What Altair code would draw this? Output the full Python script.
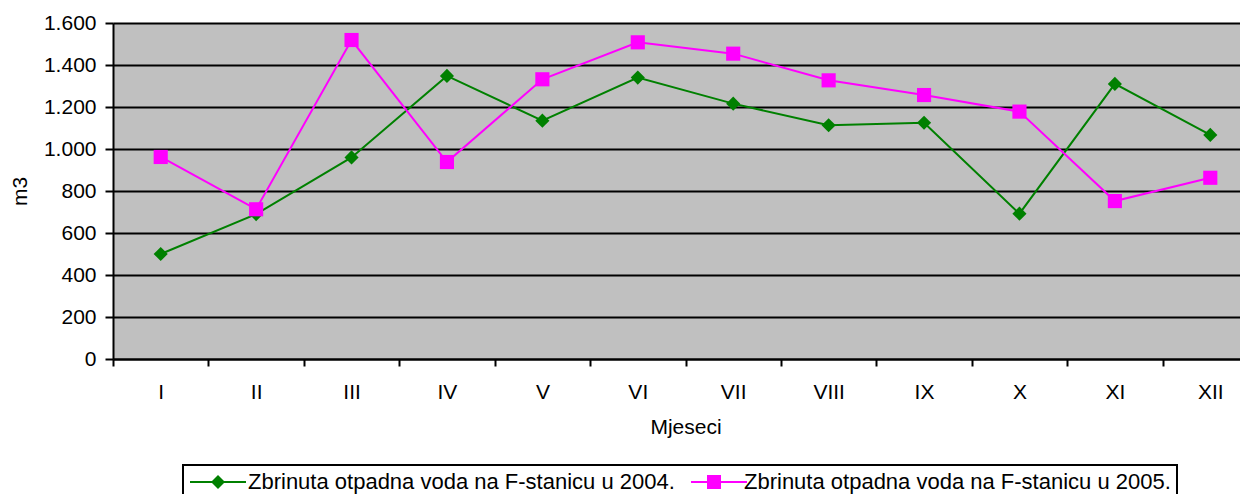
import altair as alt
import pandas as pd

months = ['I', 'II', 'III', 'IV', 'V', 'VI', 'VII', 'VIII', 'IX', 'X', 'XI', 'XII']
years = ['2004', '2005']
series_names = ['Zbrinuta otpadna voda na F-stanicu u 2004.',
                'Zbrinuta otpadna voda na F-stanicu u 2005.']
values_2004 = [500, 690, 960, 1348, 1135, 1340, 1216, 1113, 1125, 692, 1310, 1067]
values_2005 = [962, 713, 1519, 938, 1332, 1508, 1454, 1327, 1257, 1178, 752, 863]
y_ticks = [0, 200, 400, 600, 800, 1000, 1200, 1400, 1600]
colors = ['#008000', '#FF00FF']

rows = []
for key, name, vals in zip(years, series_names, [values_2004, values_2005]):
    for i, (m, v) in enumerate(zip(months, vals)):
        rows.append({'month': m, 'idx': i, 'value': v, 'key': key, 'series': name})
df = pd.DataFrame(rows)

FONT = 'Liberation Sans'

x_enc = alt.X('month:N', sort=months,
              scale=alt.Scale(type='band', domain=months, range=[0, 1145],
                              paddingInner=0, paddingOuter=0),
              axis=alt.Axis(tickBand='extent', tickSize=7, tickWidth=2, tickColor='black',
                            domainColor='black', domainWidth=2, grid=False, labelAngle=0,
                            labelFont=FONT, labelFontSize=21, labelColor='black',
                            labelPadding=15, title='Mjeseci', titleFont=FONT,
                            titleFontSize=21, titleFontWeight='normal', titleColor='black',
                            titleX=572.5, titleY=74, titleBaseline='alphabetic',
                            titleAlign='center'))
y_enc = alt.Y('value:Q', scale=alt.Scale(domain=[0, 1600], nice=False),
              axis=alt.Axis(values=y_ticks,
                            labelExpr="replace(format(datum.value, ','), ',', '.')",
                            tickSize=8, tickWidth=2, tickColor='black',
                            domainColor='black', domainWidth=2,
                            grid=True, gridColor='black', gridWidth=2,
                            labelFont=FONT, labelFontSize=21, labelColor='black',
                            labelPadding=9, labelFlush=False, labelOverlap=False,
                            title='m3', titleFont=FONT, titleFontSize=21,
                            titleFontWeight='normal', titleColor='black',
                            titleX=-87, titleBaseline='alphabetic', titleAlign='center'))

# legend of the line segments (no text of its own)
leg_lines = alt.Legend(title=None, orient='none', legendX=70, legendY=424,
                       direction='horizontal', columns=2, zindex=1,
                       symbolType='stroke', symbolSize=3136, symbolStrokeWidth=2,
                       symbolOpacity=1, symbolOffset=0, labelOffset=3, columnPadding=437,
                       padding=6, labelFont=FONT, labelFontSize=22, labelColor='black',
                       labelLimit=0, labelExpr="''")
# legend of the markers, with the texts and the frame
marker_label_expr = "datum.value === '%s' ? datum.label + '\u00a0' : datum.label" % series_names[1]
leg_markers = alt.Legend(title=None, orient='none', legendX=70, legendY=442,
                         direction='horizontal', columns=2, zindex=2,
                         symbolSize=196, symbolStrokeWidth=0, symbolOpacity=1,
                         symbolFillColor='black', symbolOffset=18, labelOffset=19,
                         columnPadding=10, padding=6, strokeColor='black',
                         labelFont=FONT, labelFontSize=22, labelColor='black',
                         labelLimit=0, labelExpr=marker_label_expr)

base = alt.Chart(df).encode(x=x_enc, y=y_enc)

lines = base.mark_line(strokeWidth=2).encode(
    stroke=alt.Stroke('key:N', scale=alt.Scale(domain=years, range=colors), legend=leg_lines),
    order=alt.Order('idx:Q'),
)

points = base.mark_point(filled=True, opacity=1, strokeWidth=0, size=200).encode(
    color=alt.Color('series:N', scale=alt.Scale(domain=series_names, range=colors),
                    legend=leg_markers),
    shape=alt.Shape('series:N', scale=alt.Scale(domain=series_names, range=['diamond', 'square']),
                    legend=leg_markers),
)

chart = alt.layer(lines, points).properties(
    width=1127, height=336,
    autosize=alt.AutoSizeParams(type='none'),
    padding={'left': 105, 'top': 15, 'right': 0, 'bottom': 135},
    background='white',
).configure_view(fill='#C0C0C0', stroke=None).configure_legend(strokeWidth=2)

chart.save('out.html', embed_options={'renderer': 'svg', 'actions': False})
